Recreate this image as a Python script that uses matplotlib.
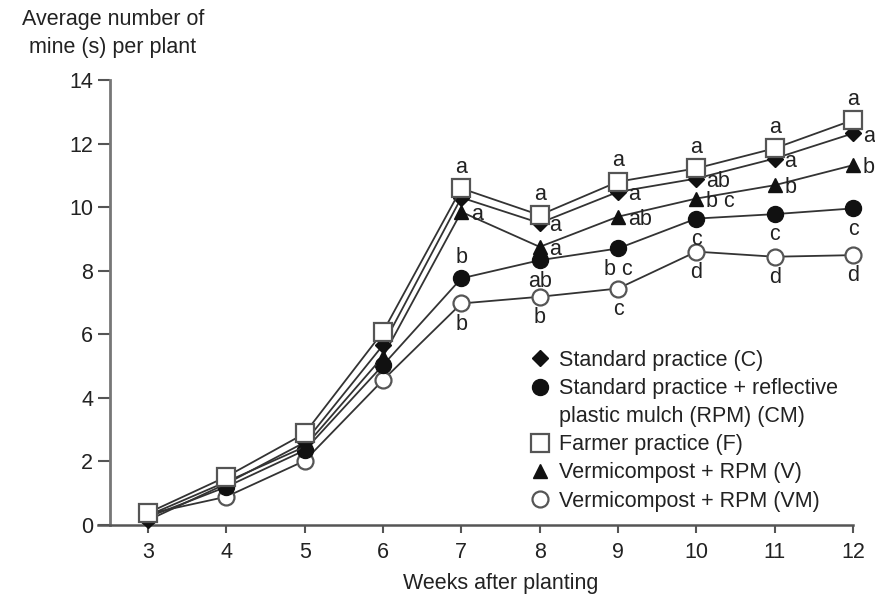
import matplotlib
matplotlib.use("Agg")
import matplotlib.pyplot as plt
from matplotlib.lines import Line2D

plt.rcParams['font.family'] = ['Liberation Sans', 'DejaVu Sans']

weeks = [3, 4, 5, 6, 7, 8, 9, 10, 11, 12]
C_vals  = [0.15, 1.30, 2.60, 5.66, 10.30, 9.50, 10.48, 10.90, 11.53, 12.32]
CM_vals = [0.25, 1.20, 2.35, 5.03, 7.76, 8.33, 8.70, 9.64, 9.78, 9.96]
F_vals  = [0.38, 1.52, 2.88, 6.08, 10.59, 9.75, 10.80, 11.22, 11.85, 12.74]
V_vals  = [0.30, 1.36, 2.46, 5.30, 9.85, 8.75, 9.70, 10.27, 10.69, 11.32]
VM_vals = [0.35, 0.89, 2.02, 4.56, 6.97, 7.18, 7.44, 8.60, 8.44, 8.49]

letter_weeks = [7, 8, 9, 10, 11, 12]
F_letters  = ['a', 'a', 'a', 'a', 'a', 'a']
C_letters  = ['', 'a', 'a', 'ab', 'a', 'a']
V_letters  = ['a', 'a', 'ab', 'b c', 'b', 'b']
CM_letters = ['b', 'ab', 'b c', 'c', 'c', 'c']
VM_letters = ['b', 'b', 'c', 'd', 'd', 'd']

labels = ['Standard practice (C)',
          'Standard practice + reflective',
          'plastic mulch (RPM) (CM)',
          'Farmer practice (F)',
          'Vermicompost + RPM (V)',
          'Vermicompost + RPM (VM)']
xticks = [3, 4, 5, 6, 7, 8, 9, 10, 11, 12]
yticks = [0, 2, 4, 6, 8, 10, 12, 14]

W, H = 875, 598
fig = plt.figure(figsize=(W / 100, H / 100), dpi=100)
ax = fig.add_axes([98 / W, 1 - 525 / H, (853 - 98) / W, (525 - 80) / H])

line_col = '#333333'
edge_gray = '#555555'
txt_col = '#222222'
FS = 15.5

styles = {
    'VM': dict(marker='o', ms=11.5, mfc='white', mec=edge_gray, mew=1.6),
    'CM': dict(marker='o', ms=11.5, mfc='#111111', mec='#111111', mew=1.0),
    'V':  dict(marker='^', ms=10.5, mfc='#111111', mec='#111111', mew=1.0),
    'C':  dict(marker='D', ms=8.5, mfc='#111111', mec='#111111', mew=1.0),
    'F':  dict(marker='s', ms=12.5, mfc='white', mec=edge_gray, mew=1.6),
}
series = [('VM', VM_vals), ('CM', CM_vals), ('V', V_vals), ('C', C_vals), ('F', F_vals)]
for i, (key, vals) in enumerate(series):
    ax.plot(weeks, vals, color=line_col, lw=1.3, clip_on=False, zorder=3 + i, **styles[key])

def put_letters(vals, letters, dx, dy, ha='center', va='center', above_first=None):
    for w, lt in zip(letter_weeks, letters):
        if not lt:
            continue
        v = vals[weeks.index(w)]
        oy = above_first if (above_first is not None and w == 7) else dy
        ax.annotate(lt, (w, v), xytext=(dx, oy), textcoords='offset points',
                    ha=ha, va=va, fontsize=FS, color=txt_col, zorder=10,
                    annotation_clip=False)

put_letters(F_vals, F_letters, 0, 15)
put_letters(C_vals, C_letters, 7, -2, ha='left')
put_letters(V_vals, V_letters, 7, -2, ha='left')
put_letters(VM_vals, VM_letters, 0, -15)
put_letters(CM_vals, CM_letters, 0, -15, above_first=15)

x_left = 3 - (148 - 98) / 78.3
ax.set_xlim(x_left, 12)
ax.set_ylim(0, 14)
ax.set_xticks(xticks)
ax.set_yticks(yticks)
ax.tick_params(axis='x', direction='out', length=6, width=1.5, color='#555555',
               labelsize=FS, pad=6, labelcolor=txt_col)
ax.tick_params(axis='y', direction='out', length=9, width=1.5, color='#555555',
               labelsize=FS, pad=3, labelcolor=txt_col)
ax.spines['top'].set_visible(False)
ax.spines['right'].set_visible(False)
ax.spines['left'].set_position(('data', 3 - (148 - 110) / 78.3))
ax.spines['left'].set_color('#777777')
ax.spines['left'].set_linewidth(2)
ax.spines['bottom'].set_color('#555555')
ax.spines['bottom'].set_linewidth(1.8)

fig.text(113 / W, 1 - 20 / H, 'Average number of', ha='center', va='center',
         fontsize=FS, color=txt_col)
fig.text(113 / W, 1 - 48 / H, 'mine (s) per plant', ha='center', va='center',
         fontsize=FS, color=txt_col)
fig.text(501 / W, 1 - 583 / H, 'Weeks after planting', ha='center', va='center',
         fontsize=FS, color=txt_col)

handles = [
    Line2D([], [], ls='none', **styles['C']),
    Line2D([], [], ls='none', **styles['CM']),
    Line2D([], [], ls='none', marker=''),
    Line2D([], [], ls='none', **styles['F']),
    Line2D([], [], ls='none', **styles['V']),
    Line2D([], [], ls='none', **styles['VM']),
]
leg = ax.legend(handles, labels, loc='upper left',
                bbox_to_anchor=(531 / W, 1 - 350 / H), bbox_transform=fig.transFigure,
                frameon=False, fontsize=FS, handlelength=0.8, handletextpad=0.5,
                labelspacing=0.33, borderpad=0, borderaxespad=0)
for t in leg.get_texts():
    t.set_color(txt_col)

fig.savefig('out.png', dpi=100)
